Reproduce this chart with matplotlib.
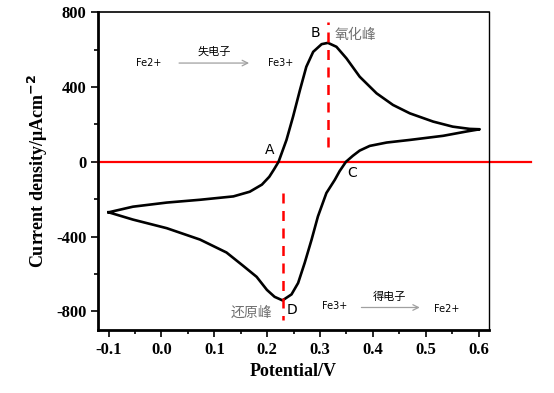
import matplotlib
matplotlib.use("Agg")
import matplotlib.pyplot as plt
from matplotlib.ticker import MultipleLocator

plt.rcParams["axes.unicode_minus"] = False

# cyclic voltammogram: anodic branch then cathodic branch
potential = [-0.100, -0.054, 0.010, 0.073, 0.136, 0.167, 0.190, 0.204, 0.213, 0.2215,
             0.2365, 0.249, 0.262, 0.274, 0.287, 0.303, 0.315, 0.331, 0.350, 0.375,
             0.407, 0.438, 0.470, 0.514, 0.551, 0.583, 0.602,
             0.577, 0.533, 0.470, 0.426, 0.394, 0.375, 0.362, 0.349, 0.337, 0.328,
             0.312, 0.296, 0.284, 0.271, 0.2585, 0.246, 0.229, 0.214, 0.1995, 0.180,
             0.154, 0.123, 0.073, 0.010, -0.054, -0.100]
current = [-270, -240, -218, -203, -185, -160, -122, -80, -40, 0,
           117, 242, 384, 508, 588, 629, 636, 615, 553, 455,
           366, 304, 259, 215, 188, 176, 174,
           162, 139, 117, 103, 85, 60, 32, 0, -50, -96,
           -167, -292, -416, -540, -648, -709, -741, -722, -685, -615,
           -555, -485, -416, -355, -309, -270]

ox_peak = 0.315
red_peak = 0.229
xticks = [-0.1, 0.0, 0.1, 0.2, 0.3, 0.4, 0.5, 0.6]
yticks = [-800, -400, 0, 400, 800]

serif = ["Liberation Serif", "DejaVu Serif"]
cjk = ["Noto Sans CJK SC", "DejaVu Sans"]

fig = plt.figure(figsize=(5.54, 3.93), dpi=100)
ax = fig.add_axes([0.177, 0.160, 0.706, 0.809])

ax.plot(potential, current, color="black", lw=1.9, zorder=3, solid_joinstyle="round")
ax.plot([-0.12, 0.70], [0, 0], color="red", lw=1.6, clip_on=False, zorder=2)
ax.plot([ox_peak, ox_peak], [80, 750], color="red", lw=1.8, ls=(0, (4, 3)), zorder=4)
ax.plot([red_peak, red_peak], [-165, -845], color="red", lw=1.8, ls=(0, (4, 3)), zorder=4)

ax.text(0.292, 690, "B", fontsize=10, ha="center", va="center")
ax.text(0.205, 64, "A", fontsize=10, ha="center", va="center")
ax.text(0.360, -60, "C", fontsize=10, ha="center", va="center")
ax.text(0.247, -795, "D", fontsize=10, ha="center", va="center")
ax.text(0.328, 680, "氧化峰", fontsize=10, color="#707070", family=cjk, va="center")
ax.text(0.171, -808, "还原峰", fontsize=10, color="#707070", family=cjk, ha="center", va="center")

ax.text(-0.024, 528, "Fe2+", fontsize=7, ha="center", va="center")
ax.text(0.226, 528, "Fe3+", fontsize=7, ha="center", va="center")
ax.text(0.099, 590, "失电子", fontsize=8, family=cjk, ha="center", va="center")
ax.annotate("", xy=(0.171, 528), xytext=(0.028, 528),
            arrowprops=dict(arrowstyle="->", color="#a0a0a0", lw=0.9))

ax.text(0.327, -773, "Fe3+", fontsize=7, ha="center", va="center")
ax.text(0.540, -789, "Fe2+", fontsize=7, ha="center", va="center")
ax.text(0.432, -722, "得电子", fontsize=8, family=cjk, ha="center", va="center")
ax.annotate("", xy=(0.494, -779), xytext=(0.373, -779),
            arrowprops=dict(arrowstyle="->", color="#a0a0a0", lw=0.9))

ax.set_xlim(-0.12, 0.62)
ax.set_ylim(-900, 800)
ax.set_xticks(xticks)
ax.set_xticklabels(["%.1f" % v for v in xticks])
ax.set_yticks(yticks)
ax.set_yticklabels([str(v) for v in yticks])
ax.xaxis.set_minor_locator(MultipleLocator(0.05))
ax.yaxis.set_minor_locator(MultipleLocator(200))
ax.tick_params(which="both", direction="out", width=1.2)
ax.tick_params(which="major", length=5)
ax.tick_params(which="minor", length=3)
for lab in ax.get_xticklabels() + ax.get_yticklabels():
    lab.set_family(serif)
    lab.set_fontweight("bold")
    lab.set_fontsize(12)

ax.spines["left"].set_linewidth(2.0)
ax.spines["bottom"].set_linewidth(2.0)
ax.spines["top"].set_linewidth(1.2)
ax.spines["right"].set_linewidth(1.0)

ax.set_xlabel("Potential/V", family=serif, fontweight="bold", fontsize=13)
ax.set_ylabel("Current density/μAcm$^{\\mathbf{-2}}$", family=serif, fontweight="bold", fontsize=13)

fig.savefig("out.png", dpi=100)
